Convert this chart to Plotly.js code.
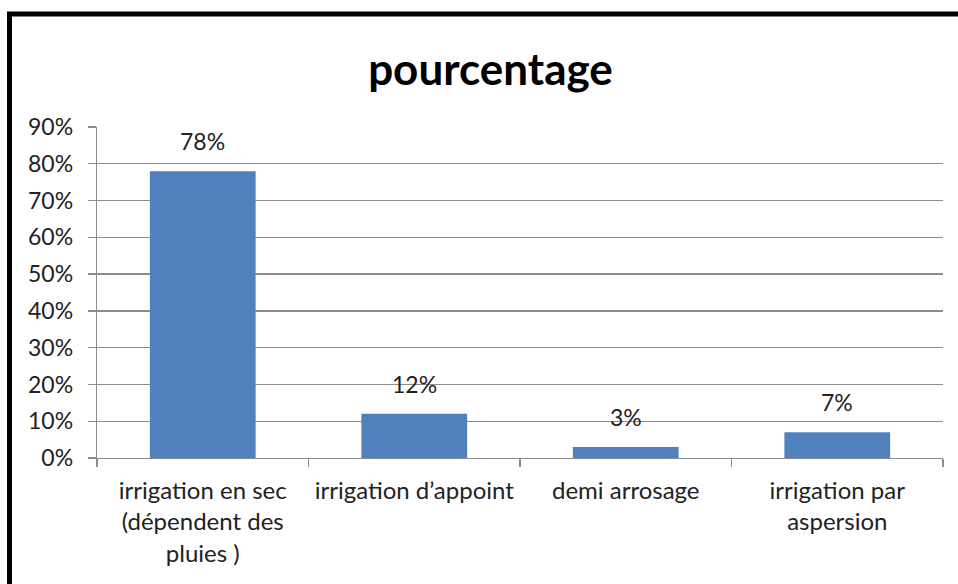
<!DOCTYPE html>
<html>
<head>
<meta charset="utf-8">
<script src="https://cdn.plot.ly/plotly-3.0.1.min.js"></script>
<style>
html,body{margin:0;padding:0;background:#fff;}
#chart{width:958px;height:584px;}
</style>
</head>
<body>
<div id="chart"></div>
<script>
const categories = [
  "irrigation en sec<br>(dépendent des<br>pluies )",
  "irrigation d’appoint",
  "demi arrosage",
  "irrigation par<br>aspersion"
];
const values = [0.78, 0.12, 0.03, 0.07];
const valueLabels = ["78%", "12%", "3%", "7%"];
const yTickVals = [0, 0.1, 0.2, 0.3, 0.4, 0.5, 0.6, 0.7, 0.8, 0.9];

const FONT = "Lato, Carlito, Calibri, sans-serif";
const GRID = "#8c8c8c";

const trace = {
  type: "bar",
  x: categories,
  y: values,
  marker: {color: "#4f81bd", line: {width: 0}},
  hoverinfo: "none"
};

const annotations = categories.map((c, i) => ({
  x: c, y: values[i], xref: "x", yref: "y",
  text: valueLabels[i], showarrow: false,
  yanchor: "bottom", yshift: 14,
  font: {family: FONT, size: 23, color: "#222"}
}));

const L = 97, R = 943, T = 127, B = 458;
const pw = R - L, ph = B - T;
const px = v => (v - L) / pw;
const py = v => (B - v) / ph;

const layout = {
  width: 958, height: 584,
  margin: {l: L, r: 958 - R, t: T, b: 584 - B},
  paper_bgcolor: "#fff", plot_bgcolor: "#fff",
  showlegend: false,
  bargap: 0.5,
  title: {
    text: "<b>pourcentage</b>",
    x: 0.512, xanchor: "center", y: 0.88, yanchor: "middle",
    font: {family: FONT, size: 44, color: "#000"}
  },
  xaxis: {
    type: "category",
    showline: true, linecolor: GRID, linewidth: 1.3,
    ticks: "outside", tickson: "boundaries", ticklen: 8, tickcolor: GRID, tickwidth: 1.3,
    showgrid: false,
    ticklabelstandoff: 11,
    tickfont: {family: FONT, size: 24, color: "#222"},
    fixedrange: true
  },
  yaxis: {
    range: [0, 0.9], tickvals: yTickVals, tickformat: ".0%",
    showline: true, linecolor: GRID, linewidth: 1.3,
    ticks: "outside", ticklen: 8, tickcolor: GRID, tickwidth: 1.3,
    showgrid: true, gridcolor: GRID, gridwidth: 1.3,
    zeroline: false,
    ticklabelstandoff: 10,
    tickfont: {family: FONT, size: 23, color: "#222"},
    fixedrange: true
  },
  annotations: annotations,
  shapes: [
    {type: "line", xref: "paper", yref: "paper", x0: px(9.5), x1: px(9.5), y0: py(12), y1: py(600),
     line: {color: "#000", width: 5}},
    {type: "line", xref: "paper", yref: "paper", x0: px(7), x1: px(970), y0: py(14), y1: py(14),
     line: {color: "#000", width: 5}}
  ]
};

Plotly.newPlot("chart", [trace], layout, {staticPlot: true, displayModeBar: false});
</script>
</body>
</html>
